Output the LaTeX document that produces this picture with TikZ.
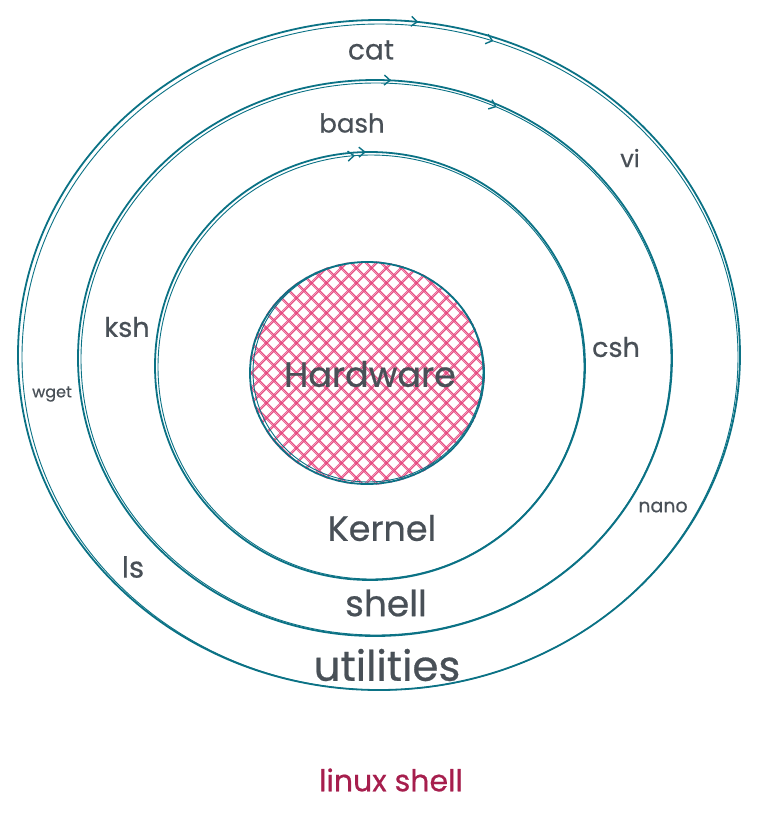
\documentclass[tikz,border=0pt]{standalone}
\usepackage{fontspec}
\setmainfont{Poppins}
\newfontfamily\handfont{Poppins}[FakeBold=0.6]
\usetikzlibrary{decorations.markings,arrows.meta}
\definecolor{ring}{HTML}{0B7285}
\definecolor{txt}{HTML}{495057}
\definecolor{hatch}{HTML}{E64980}
\definecolor{titlec}{HTML}{A61E4D}
\tikzset{
  ringline/.style={draw=ring, line width=1.8pt},
  ringthin/.style={draw=ring, line width=0.9pt},
  barb/.style={decoration={markings, mark=at position #1 with {\arrowreversed[ring, line width=1.4pt]{Straight Barb[length=6pt,width=10pt]}}}, postaction=decorate},
  lbl/.style={text=txt, inner sep=0pt},
  hatchline/.style={draw=hatch, line width=1.1pt}
}
\begin{document}
\begin{tikzpicture}[x=1pt,y=-1pt]
\useasboundingbox (0,0) rectangle (757,823);
% hardware hatch
\begin{scope}
  \clip (367,373) ellipse [x radius=118pt, y radius=112pt];
  \foreach \i in {-280,-265,...,280} {
    \draw[hatchline] (367+\i-130,373-130) -- (367+\i+130,373+130);
    \draw[hatchline] (367+\i-130,373+130) -- (367+\i+130,373-130);
  }
  \foreach \i in {-276,-261,...,280} {
    \draw[hatchline, line width=0.5pt] (367+\i-130,373-124) -- (367+\i+130,373+136);
    \draw[hatchline, line width=0.5pt] (367+\i-130,373+124) -- (367+\i+130,373-136);
  }
\end{scope}
% rings
\draw[ringline, barb=0.232] (379,355) ellipse [x radius=361pt, y radius=335pt];
\draw[ringthin, barb=0.197] (380,357) ellipse [x radius=358pt, y radius=333pt];
\draw[ringline, barb=0.241] (375,358) ellipse [x radius=297pt, y radius=278pt];
\draw[ringthin, barb=0.181] (376,359) ellipse [x radius=295pt, y radius=276pt];
\draw[ringline, barb=0.253] (370,366) ellipse [x radius=215pt, y radius=214pt];
\draw[ringthin, barb=0.262] (371,367) ellipse [x radius=213pt, y radius=212pt];
\draw[ringline] (367,373) ellipse [x radius=117pt, y radius=111pt];
\draw[ringthin] (368,372) ellipse [x radius=115pt, y radius=110pt];
% labels
\node[lbl, font=\handfont\fontsize{28}{30}\selectfont] (cat) at (371,50) {cat};
\node[lbl, font=\handfont\fontsize{26}{30}\selectfont] (bash) at (352,123) {bash};
\node[lbl, font=\handfont\fontsize{24}{30}\selectfont] (vi) at (630,158) {vi};
\node[lbl, font=\handfont\fontsize{27}{30}\selectfont] (ksh) at (127,327) {ksh};
\node[lbl, font=\handfont\fontsize{27}{30}\selectfont] (csh) at (616,347) {csh};
\node[lbl, font=\handfont\fontsize{16}{20}\selectfont] (wget) at (52,394) {wget};
\node[lbl, font=\handfont\fontsize{19}{20}\selectfont] (nano) at (663,507) {nano};
\node[lbl, font=\handfont\fontsize{35}{40}\selectfont] (hw) at (370,374) {Hardware};
\node[lbl, font=\handfont\fontsize{35}{40}\selectfont] (kernel) at (382,528) {Kernel};
\node[lbl, font=\handfont\fontsize{29}{30}\selectfont] (ls) at (133,567) {ls};
\node[lbl, font=\handfont\fontsize{36}{40}\selectfont] (shell) at (386,603) {shell};
\node[lbl, font=\handfont\fontsize{42}{44}\selectfont] (util) at (387,665) {utilities};
\node[text=titlec, inner sep=0pt, font=\handfont\fontsize{30}{32}\selectfont] (title) at (391,780) {linux shell};
\end{tikzpicture}
\end{document}
